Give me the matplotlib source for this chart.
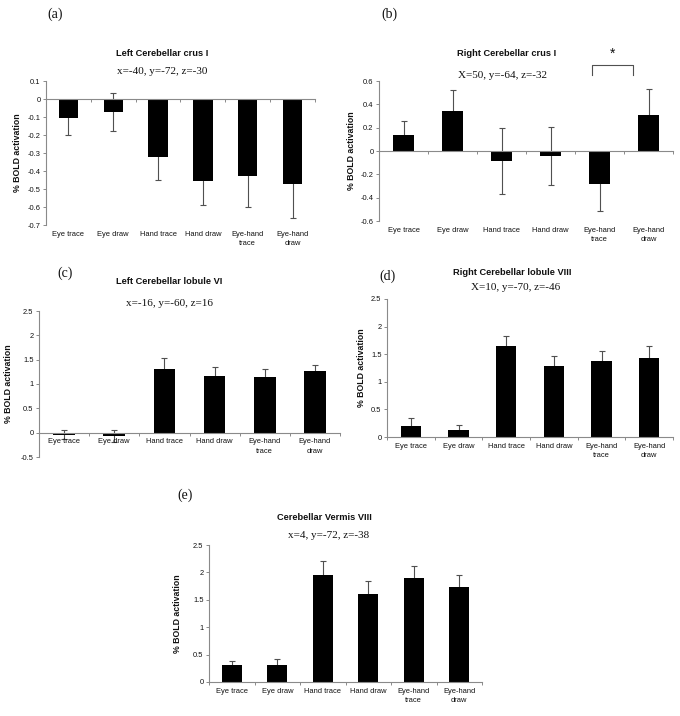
import matplotlib
matplotlib.use('Agg')
import matplotlib.pyplot as plt
import numpy as np
from matplotlib.ticker import FuncFormatter

plt.rcParams['font.family'] = 'Liberation Sans'
plt.rcParams['axes.unicode_minus'] = False

categories = ['Eye trace', 'Eye draw', 'Hand trace', 'Hand draw', 'Eye-hand\ntrace', 'Eye-hand\ndraw']

# % BOLD activation, mean and error
crus_left_mean = [-0.105, -0.07, -0.32, -0.455, -0.425, -0.47]
crus_left_err = [0.095, 0.105, 0.13, 0.135, 0.175, 0.19]
crus_right_mean = [0.14, 0.34, -0.085, -0.04, -0.285, 0.31]
crus_right_err = [0.12, 0.18, 0.285, 0.25, 0.225, 0.22]
lob6_mean = [-0.04, -0.07, 1.30, 1.16, 1.14, 1.26]
lob6_err = [0.085, 0.115, 0.24, 0.18, 0.16, 0.14]
lob8_mean = [0.20, 0.12, 1.65, 1.28, 1.37, 1.43]
lob8_err = [0.14, 0.10, 0.18, 0.19, 0.18, 0.21]
vermis_mean = [0.31, 0.31, 1.95, 1.60, 1.89, 1.74]
vermis_err = [0.07, 0.11, 0.26, 0.25, 0.22, 0.22]

W, H = 680, 716
fig = plt.figure(figsize=(W / 100, H / 100), dpi=100)


def px_axes(left, right, top, bottom):
    return fig.add_axes([left / W, 1 - bottom / H, (right - left) / W, (bottom - top) / H])


AX_COL = '#8a8a8a'
TXT = '#111111'


def draw_panel(ax, means, errs, ymin, ymax, step, labels_at_bottom, ylab_x):
    x = np.arange(len(categories))
    ax.errorbar(x, means, yerr=errs, fmt='none', ecolor='#505050',
                elinewidth=0.8, capsize=2.5, capthick=0.8, zorder=1)
    ax.bar(x, means, width=0.43, color='black', zorder=2)
    ax.set_xlim(-0.5, 5.5)
    ax.set_ylim(ymin, ymax)
    ax.set_yticks(np.round(np.arange(ymin, ymax + step / 2, step), 2))
    ax.yaxis.set_major_formatter(FuncFormatter(lambda v, p: f'{v + 0.0:g}'))
    for s in ['top', 'right']:
        ax.spines[s].set_visible(False)
    ax.spines['left'].set_color(AX_COL)
    ax.spines['left'].set_linewidth(0.8)
    ax.spines['bottom'].set_position(('data', 0))
    ax.spines['bottom'].set_color(AX_COL)
    ax.spines['bottom'].set_linewidth(0.8)
    ax.tick_params(axis='y', length=2.5, width=0.7, color=AX_COL, pad=1.5,
                   labelsize=5.4, labelcolor=TXT)
    ax.set_xticks(np.arange(-0.5, 6, 1), minor=True)
    ax.tick_params(axis='x', which='minor', length=2.5, width=0.7, color=AX_COL)
    if labels_at_bottom:
        ax.set_xticks(x, [])
        ax.tick_params(axis='x', which='major', length=0)
        sec = ax.secondary_xaxis('bottom')
        sec.set_xticks(x, categories)
        sec.spines['bottom'].set_visible(False)
        sec.tick_params(axis='x', length=0, pad=4, labelsize=5.4, labelcolor=TXT)
        labels = sec.get_xticklabels()
    else:
        ax.set_xticks(x, categories)
        ax.tick_params(axis='x', which='major', length=0, pad=4,
                       labelsize=5.4, labelcolor=TXT)
        labels = ax.get_xticklabels()
    for t in labels:
        t.set_linespacing(1.5)
    ax.set_ylabel('% BOLD activation', fontsize=6.3, fontweight='bold', color=TXT)
    ax.yaxis.set_label_coords(ylab_x, 0.5)


def fig_text(xp, yp, s, **kw):
    fig.text(xp / W, 1 - yp / H, s, ha='center', va='center', **kw)


def heading(letter, lxy, title, txy, coords, cxy):
    fig_text(*lxy, letter, family='Liberation Serif', fontsize=10, color=TXT)
    fig_text(*txy, title, fontsize=6.7, fontweight='bold', color=TXT)
    fig_text(*cxy, coords, family='Liberation Serif', fontsize=8, color=TXT)


# (a)
ax_a = px_axes(46, 315, 81, 225)
draw_panel(ax_a, crus_left_mean, crus_left_err, -0.7, 0.1, 0.1, True, -0.089)
heading('(a)', (55, 14), 'Left Cerebellar crus I', (162, 54), 'x=-40, y=-72, z=-30', (162, 71))

# (b)
ax_b = px_axes(379, 673, 81, 221)
draw_panel(ax_b, crus_right_mean, crus_right_err, -0.6, 0.6, 0.2, True, -0.078)
heading('(b)', (389, 14), 'Right Cerebellar crus I', (507, 54), 'X=50, y=-64, z=-32', (503, 76))
# significance bracket between the eye-hand conditions
ax_b.plot([3.85, 3.85, 4.68, 4.68], [0.65, 0.737, 0.737, 0.65], color='#505050',
          lw=0.8, clip_on=False)
ax_b.text(4.27, 0.83, '*', ha='center', va='center', fontsize=10, color=TXT, clip_on=False)

# (c)
ax_c = px_axes(39, 340, 311, 457)
draw_panel(ax_c, lob6_mean, lob6_err, -0.5, 2.5, 0.5, False, -0.086)
heading('(c)', (65, 273), 'Left Cerebellar lobule VI', (169, 282), 'x=-16, y=-60, z=16', (170, 304))

# (d)
ax_d = px_axes(387, 673, 299, 437)
draw_panel(ax_d, lob8_mean, lob8_err, 0, 2.5, 0.5, False, -0.073)
heading('(d)', (388, 276), 'Right Cerebellar lobule VIII', (512, 272), 'X=10, y=-70, z=-46', (516, 288))

# (e)
ax_e = px_axes(209, 482, 545, 682)
draw_panel(ax_e, vermis_mean, vermis_err, 0, 2.5, 0.5, False, -0.099)
heading('(e)', (185, 495), 'Cerebellar Vermis VIII', (324, 517), 'x=4, y=-72, z=-38', (329, 536))

fig.savefig('out.png', dpi=100)
